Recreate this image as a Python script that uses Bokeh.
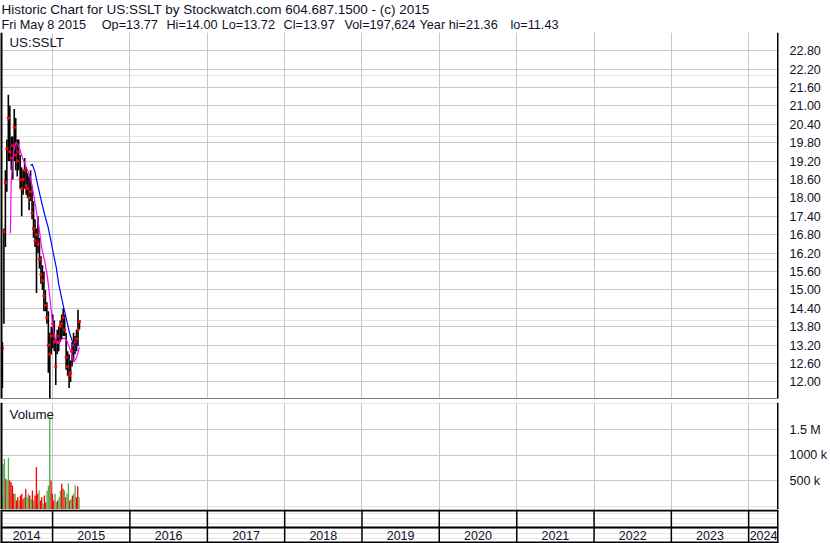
import pandas as pd
from bokeh.plotting import figure
from bokeh.models import (Range1d, LinearAxis, FixedTicker, PrintfTickFormatter,
                          Span, Label, ColumnDataSource, Grid)
from bokeh.layouts import column
from bokeh.embed import file_html
from bokeh.resources import INLINE
from bokeh.core.properties import value

# ---------------- data ----------------
title_line = "Historic Chart for US:SSLT by Stockwatch.com 604.687.1500 - (c) 2015"
info_tokens = ["Fri May  8 2015", "Op=13.77", "Hi=14.00", "Lo=13.72", "Cl=13.97",
               "Vol=197,624", "Year hi=21.36", "lo=11.43"]
symbol = "US:SSLT"

week_start = "2014-05-09"
price_hi = [13.3, 17.0, 18.9, 19.9, 21.36, 21.0, 20.0, 20.0, 20.9, 20.6, 19.9, 19.9, 19.4,
            19.0, 18.9, 19.3, 19.0, 18.8, 18.7, 18.9, 18.4, 17.9, 17.3, 17.0, 17.4, 16.7,
            16.1, 15.8, 15.6, 15.0, 14.6, 14.3, 13.6, 13.8, 14.2, 14.0, 13.4, 13.7, 13.8,
            14.0, 14.2, 14.4, 14.2, 13.6, 13.0, 12.9, 12.7, 13.3, 13.6, 13.5, 13.7, 14.35, 14.0]
price_lo = [11.8, 13.9, 16.4, 18.2, 19.2, 19.2, 18.9, 18.6, 19.2, 18.9, 18.7, 18.9, 18.3,
            17.4, 18.1, 18.3, 18.1, 18.0, 17.6, 17.9, 17.3, 16.7, 16.4, 14.9, 16.2, 15.7,
            15.2, 15.0, 14.3, 14.3, 13.9, 12.3, 11.43, 12.9, 13.1, 13.0, 11.9, 12.9, 13.0,
            13.3, 13.4, 13.5, 13.5, 12.4, 12.2, 11.8, 12.0, 12.5, 12.7, 12.9, 13.0, 13.2, 13.72]
price_cl = [13.1, 16.9, 18.5, 19.6, 20.6, 19.5, 19.3, 19.7, 20.3, 19.4, 19.2, 19.5, 18.6,
            18.3, 18.6, 18.9, 18.4, 18.3, 18.0, 18.2, 17.5, 17.0, 16.6, 16.8, 16.5, 16.0,
            15.5, 15.3, 14.8, 14.5, 14.1, 13.2, 12.9, 13.5, 13.9, 13.3, 12.5, 13.5, 13.3,
            13.8, 13.9, 14.1, 13.7, 12.8, 12.5, 12.2, 12.3, 13.0, 13.2, 13.3, 13.4, 13.7, 13.97]

ma_fast_dates = ["2014-06-16", "2014-06-19", "2014-06-24", "2014-07-01", "2014-07-10",
                 "2014-07-14", "2014-07-27", "2014-08-11", "2014-08-30", "2014-09-18",
                 "2014-10-03", "2014-10-16", "2014-10-29", "2014-11-10", "2014-11-26",
                 "2014-12-08", "2014-12-21", "2015-01-02", "2015-01-15", "2015-01-24",
                 "2015-02-05", "2015-02-24", "2015-03-09", "2015-03-27", "2015-04-12",
                 "2015-04-25", "2015-05-07"]
ma_fast = [16.85, 18.4, 19.0, 19.5, 19.78, 19.81, 19.65, 19.32, 18.99, 18.67, 18.13, 17.58,
           17.04, 16.39, 15.90, 15.41, 14.65, 13.78, 13.35, 13.24, 13.35, 13.43, 13.35,
           13.02, 12.64, 12.80, 13.13]

ma_slow_dates = ["2014-09-18", "2014-09-27", "2014-10-10", "2014-10-22", "2014-11-03",
                 "2014-11-16", "2014-11-28", "2014-12-11", "2014-12-24", "2015-01-05",
                 "2015-01-18", "2015-01-30", "2015-02-12", "2015-02-24", "2015-03-09",
                 "2015-03-21", "2015-04-03", "2015-04-15", "2015-04-28", "2015-05-07"]
ma_slow = [19.05, 19.10, 18.83, 18.45, 18.07, 17.69, 17.36, 17.04, 16.61, 16.17, 15.74,
           15.19, 14.76, 14.38, 14.00, 13.62, 13.35, 13.18, 13.18, 13.18]

vol_k = [214, 832, 929, 540, 507, 949, 507, 474, 409, 247, 247, 117, 182, 117, 214, 247,
         149, 182, 344, 182, 247, 214, 149, 312, 117, 214, 767, 247, 312, 117, 182, 52,
         214, 84, 312, 409, 1741, 507, 247, 117, 247, 84, 117, 182, 312, 442, 344, 312,
         182, 247, 455, 117, 149, 214, 247, 409, 182, 390, 182]
vol_dir = ["d", "u", "u", "d", "u", "u", "d", "d", "d", "d", "u", "d", "d", "u", "d", "d",
           "d", "u", "d", "u", "u", "d", "u", "d", "u", "d", "d", "d", "u", "d", "d", "u",
           "d", "d", "u", "u", "u", "d", "d", "d", "u", "u", "d", "u", "u", "d", "d", "u",
           "d", "u", "u", "d", "u", "d", "u", "u", "d", "d", "u"]

price_ticks = [12.00, 12.60, 13.20, 13.80, 14.40, 15.00, 15.60, 16.20, 16.80, 17.40,
               18.00, 18.60, 19.20, 19.80, 20.40, 21.00, 21.60, 22.20, 22.80]
vol_ticks = [500000, 1000000, 1500000]
vol_tick_labels = ["500 k", "1000 k", "1.5 M"]
years = [2014, 2015, 2016, 2017, 2018, 2019, 2020, 2021, 2022, 2023, 2024]

# ---------------- styling ----------------
FONT = "Liberation Sans"
TXT = "#10102a"
GRID = "#c8c8c8"
RED = "#ff0000"
GREEN = "#4cb24c"
W = 830
AXW = 48
AFS = "12.5px"

def ms(t):
    return pd.Timestamp(t).value // 10**6

x_start = pd.Timestamp("2014-04-30")
x_end = pd.Timestamp("2024-05-21")
xr = Range1d(x_start, x_end)
year_bounds = [ms(f"{y}-01-01") for y in years[1:]]

def base(height, yr, mb=0):
    p = figure(width=W, height=height, x_range=xr, y_range=yr, x_axis_type="datetime",
               toolbar_location=None, output_backend="svg", min_border_left=0,
               min_border_right=AXW, min_border_top=0, min_border_bottom=mb,
               x_axis_location=None, y_axis_location=None)
    p.background_fill_color = "white"
    p.border_fill_color = "white"
    p.outline_line_color = None
    return p

def side_spans(p):
    p.add_layout(Span(location=ms(x_start), dimension="height", line_color="black", line_width=4))
    p.add_layout(Span(location=ms(x_end), dimension="height", line_color="black", line_width=3))

def hline():
    h = figure(width=W, height=1, toolbar_location=None, output_backend="svg", min_border=0,
               x_axis_location=None, y_axis_location=None)
    h.outline_line_color = None
    h.grid.visible = False
    h.background_fill_color = "black"
    h.border_fill_color = "black"
    return h

# header
hdr = figure(width=W, height=31, x_range=Range1d(0, W), y_range=Range1d(0, 31),
             toolbar_location=None, output_backend="svg", min_border=0,
             x_axis_location=None, y_axis_location=None)
hdr.outline_line_color = None
hdr.grid.visible = False
hdr.add_layout(Label(x=1, y=22, text=title_line, text_font=FONT, text_font_size="13.5px",
                     text_baseline="middle", text_color=TXT))
info_x = [1, 108, 177, 236, 302, 367, 447, 544]
for tx, tk in zip(info_x, info_tokens):
    hdr.add_layout(Label(x=tx, y=7, text=tk, text_font=FONT, text_font_size="12.7px",
                         text_baseline="middle", text_color=TXT))

# price panel
p_lo, p_hi = 11.46, 23.39
pf = base(369, Range1d(p_lo, p_hi), mb=3)
pf.add_layout(Grid(dimension=1, ticker=FixedTicker(ticks=price_ticks), grid_line_color=GRID))
pf.add_layout(Grid(dimension=0, ticker=FixedTicker(ticks=year_bounds), grid_line_color=GRID))
ax = LinearAxis(ticker=FixedTicker(ticks=price_ticks), formatter=PrintfTickFormatter(format="%.2f"),
                axis_line_color=None, major_tick_line_color=None, minor_tick_line_color=None,
                major_label_text_font=FONT, major_label_text_font_size=AFS,
                major_label_standoff=5, major_label_text_color=TXT)
pf.add_layout(ax, "right")
weeks = pd.date_range(week_start, periods=len(price_hi), freq="7D")
src = ColumnDataSource(dict(date=weeks, hi=price_hi, lo=price_lo, cl=price_cl))
pf.segment(x0="date", y0="lo", x1="date", y1="hi", source=src, line_color="black", line_width=1.6)
pf.scatter(x="date", y="cl", source=src, marker="square", size=2, color=RED)
pf.line(x=pd.to_datetime(ma_fast_dates), y=ma_fast, line_color="#ff00ff", line_width=1.2)
pf.line(x=pd.to_datetime(ma_slow_dates), y=ma_slow, line_color="#0000ff", line_width=1.2)
pf.add_layout(Label(x=ms(x_start), y=p_hi, x_offset=9, y_offset=-10, text=symbol, text_font=FONT,
                    text_font_size="13.3px", text_baseline="middle", text_color=TXT))
pf.add_layout(Span(location=p_lo, dimension="width", line_color="black", line_width=1))
side_spans(pf)

# volume panel
vmin, vmax = -58000, 2027000
vf = base(107, Range1d(vmin, vmax))
vf.add_layout(Grid(dimension=1, ticker=FixedTicker(ticks=vol_ticks), grid_line_color=GRID))
vf.add_layout(Grid(dimension=0, ticker=FixedTicker(ticks=year_bounds), grid_line_color=GRID))
vax = LinearAxis(ticker=FixedTicker(ticks=vol_ticks),
                 major_label_overrides={t: l for t, l in zip(vol_ticks, vol_tick_labels)},
                 axis_line_color=None, major_tick_line_color=None, minor_tick_line_color=None,
                 major_label_text_font=FONT, major_label_text_font_size=AFS,
                 major_label_standoff=5, major_label_text_color=TXT)
vf.add_layout(vax, "right")
vdates = pd.date_range("2014-05-06", "2015-05-06", periods=len(vol_k))
vsrc = ColumnDataSource(dict(date=vdates, vol=[v * 1000 for v in vol_k],
                             color=[GREEN if d == "u" else RED for d in vol_dir]))
vf.vbar(x="date", top="vol", bottom=vmin, width=6.3 * 86400000, source=vsrc,
        fill_color="color", line_color=None)
vf.add_layout(Label(x=ms(x_start), y=vmax, x_offset=9, y_offset=-12, text="Volume", text_font=FONT,
                    text_font_size="13.3px", text_baseline="middle", text_color=TXT))
side_spans(vf)

# year band
yf = base(34, Range1d(0, 34))
for loc in (33, 16, 1):
    yf.add_layout(Span(location=loc, dimension="width", line_color="black", line_width=2))
yf.segment(x0=year_bounds, y0=0, x1=year_bounds, y1=34, line_color="black", line_width=1.5)
centers, labels = [], []
for y in years:
    a = max(pd.Timestamp(f"{y}-01-01"), x_start)
    b = min(pd.Timestamp(f"{y + 1}-01-01"), x_end)
    centers.append(a + (b - a) / 2)
    labels.append(str(y))
yf.text(x=centers, y=[8] * len(centers), text=labels, text_align="center", text_baseline="middle",
        text_font=value(FONT), text_font_size=AFS, text_color=TXT)
side_spans(yf)

layout = column(hdr, hline(), pf, hline(), vf, yf, spacing=0)
open("out.html", "w").write(file_html(layout, INLINE))
